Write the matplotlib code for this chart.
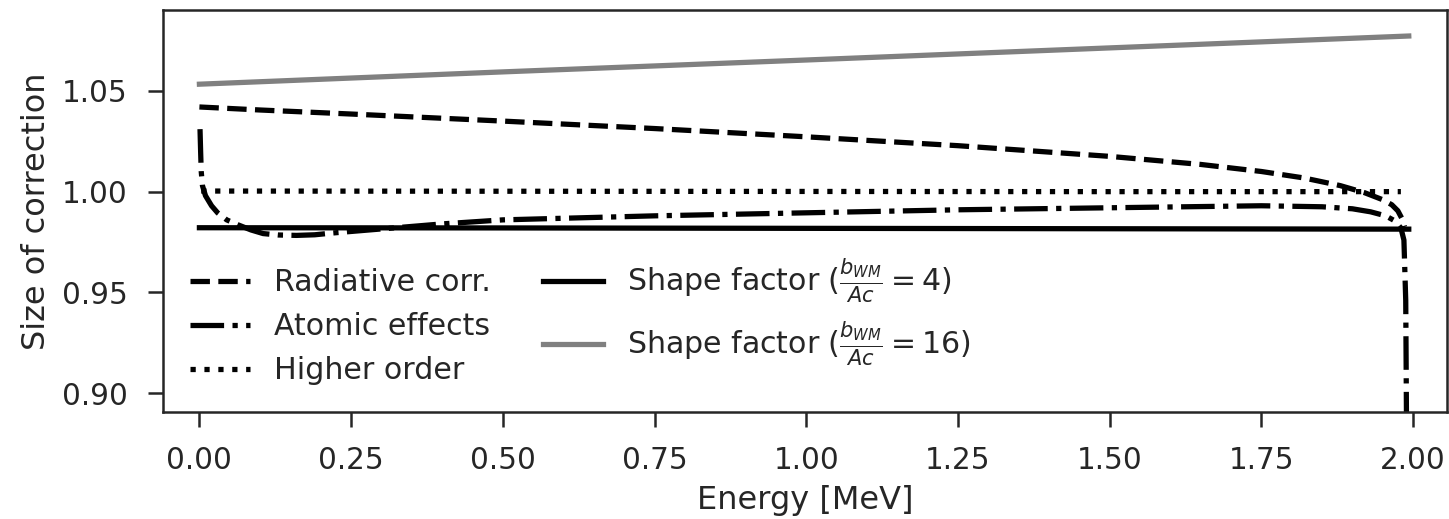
import matplotlib
matplotlib.use("Agg")
import matplotlib.pyplot as plt

# Energy grids [MeV] and correction factors
energy_rad = [0.0, 0.1, 0.25, 0.5, 0.75, 1.0, 1.25, 1.5, 1.65, 1.75, 1.82,
              1.88, 1.92, 1.95, 1.965, 1.975, 1.982, 1.986]
radiative = [1.0420, 1.0405, 1.0385, 1.0350, 1.0313, 1.0272, 1.0228, 1.0175,
             1.0135, 1.0100, 1.0068, 1.0030, 0.9995, 0.9960, 0.9935, 0.9905,
             0.9865, 0.9825]

energy_atom = [0.001, 0.002, 0.003, 0.005, 0.010, 0.02, 0.03, 0.045, 0.064,
               0.085, 0.105, 0.13, 0.16, 0.19, 0.22, 0.26, 0.3, 0.4, 0.5,
               0.75, 1.0, 1.25, 1.5, 1.75, 1.85, 1.9, 1.93, 1.955, 1.97,
               1.98, 1.985, 1.988, 1.99]
atomic = [1.031, 1.020, 1.010, 1.003, 0.998, 0.993, 0.9895, 0.986, 0.9835,
          0.981, 0.9792, 0.9785, 0.9783, 0.9786, 0.9795, 0.9805, 0.9815,
          0.9840, 0.9860, 0.9880, 0.9895, 0.9910, 0.9920, 0.9930, 0.9925,
          0.9915, 0.9900, 0.9880, 0.9855, 0.9820, 0.9760, 0.9460, 0.8500]

energy_high = [0.003, 0.5, 1.0, 1.5, 1.98]
higher_order = [1.0003, 1.0002, 1.0001, 1.0000, 1.0000]

energy_shape = [0.0, 0.5, 1.0, 1.5, 1.993]
shape_4 = [0.9821, 0.9820, 0.9818, 0.9816, 0.9814]
shape_16 = [1.0533, 1.0594, 1.0653, 1.0713, 1.0772]

labels = ["Radiative corr.", "Atomic effects", "Higher order",
          r"Shape factor ($\frac{b_{WM}}{Ac} = 4$)",
          r"Shape factor ($\frac{b_{WM}}{Ac} = 16$)"]

xticks = [0.00, 0.25, 0.50, 0.75, 1.00, 1.25, 1.50, 1.75, 2.00]
yticks = [0.90, 0.95, 1.00, 1.05]

ink = "0.15"
plt.rcParams.update({
    "font.family": "DejaVu Sans",
    "text.color": ink,
    "axes.labelcolor": ink,
    "axes.edgecolor": ink,
    "axes.linewidth": 1.0,
    "xtick.color": ink,
    "ytick.color": ink,
    "xtick.labelsize": 11.8,
    "ytick.labelsize": 11.8,
    "axes.labelsize": 12.8,
    "legend.fontsize": 12,
    "xtick.major.size": 6,
    "ytick.major.size": 6,
    "xtick.major.width": 1.0,
    "ytick.major.width": 1.0,
    "xtick.major.pad": 7.5,
    "ytick.major.pad": 8,
    "mathtext.fontset": "dejavusans",
})

dpi = 180
fig = plt.figure(figsize=(1449 / dpi, 519 / dpi), dpi=dpi)
ax = fig.add_axes([163 / 1449, 107 / 519, 1284 / 1449, 402 / 519])

lw = 2.1
ax.plot(energy_rad, radiative, color="black", ls="--", lw=lw, label=labels[0])
ax.plot(energy_atom, atomic, color="black", ls="-.", lw=lw, label=labels[1])
ax.plot(energy_high, higher_order, color="black", ls=":", lw=lw, label=labels[2])
ax.plot(energy_shape, shape_4, color="black", ls="-", lw=lw, label=labels[3])
ax.plot(energy_shape, shape_16, color="gray", ls="-", lw=lw, label=labels[4])

ax.set_xlim(-0.06, 2.056)
ax.set_ylim(0.8907, 1.0901)
ax.set_xticks(xticks)
ax.set_yticks(yticks)
ax.set_xticklabels([f"{t:.2f}" for t in xticks])
ax.set_yticklabels([f"{t:.2f}" for t in yticks])
ax.set_xlabel("Energy [MeV]")
ax.set_ylabel("Size of correction")

ax.legend(loc="lower left", ncol=2, frameon=False, columnspacing=1.75)

fig.savefig("out.png", dpi=dpi)
